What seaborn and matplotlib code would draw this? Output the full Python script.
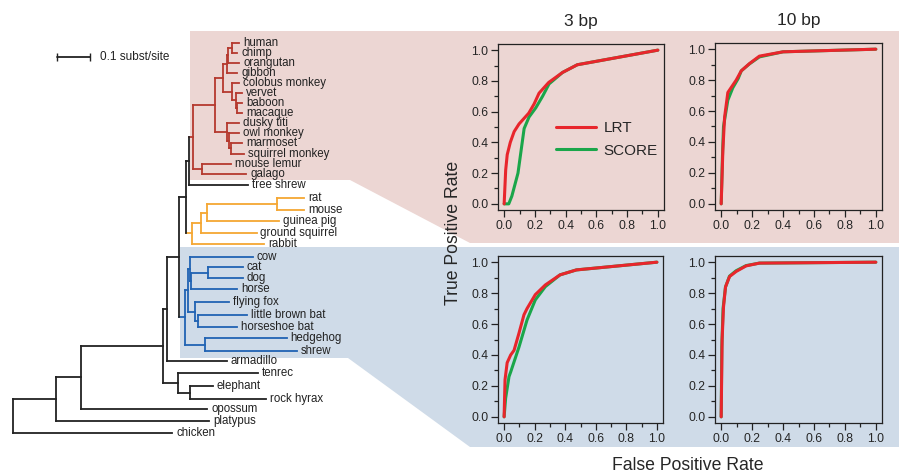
import matplotlib
matplotlib.use("Agg")
import matplotlib.pyplot as plt
from matplotlib.ticker import MultipleLocator, FormatStrFormatter
import pandas as pd
import seaborn as sns

# ---- tree (branch lengths in subst/site, clades labelled for colouring) ----
primates = ("((((((human:0.021,chimp:0.015):0.012,orangutan:0.033):0.006,gibbon:0.033):0.012,"
            "(colobus monkey:0.021,(vervet:0.018,(baboon:0.015,macaque:0.015):0.003):0.012):0.030):0.024,"
            "(dusky titi:0.039,(owl monkey:0.030,(marmoset:0.033,squirrel monkey:0.039):0.006):0.009):0.036):0.067,"
            "(mouse lemur:0.088,galago:0.133):0.030)Primates:0.012")
glires = ("((((rat:0.082,mouse:0.082):0.212,guinea pig:0.218):0.018,ground squirrel:0.167):0.030,"
          "rabbit:0.221)Glires:0.018")
laurasiatheria = ("(((cow:0.191,((cat:0.106,dog:0.106):0.052,horse:0.142):0.003):0.006,"
                  "(flying fox:0.106,(little brown bat:0.148,horseshoe bat:0.118):0.012):0.021):0.009,"
                  "(hedgehog:0.248,shrew:0.279):0.061)Laurasiatheria:0.018")
tree_newick = ("((((((((" + primates + ",tree shrew:0.179):0.009," + glires + "):0.021,"
               + laurasiatheria + "):0.036,armadillo:0.182):0.012,"
               "(tenrec:0.242,(elephant:0.070,rock hyrax:0.233):0.036):0.045):0.248,"
               "opossum:0.382):0.076,platypus:0.464):0.130,chicken:0.482);")

# vertical position of each tip, top to bottom
tip_rows = [43, 53, 63, 73, 83, 93, 103, 113, 123, 133, 143, 154, 164, 174, 185,
            198, 210, 221, 233, 244, 257, 267, 278, 289, 302, 315, 327, 338, 351,
            361, 373, 386, 399, 409, 421, 433]

clade_colors = {"Primates": "#b5392e", "Glires": "#f5a733", "Laurasiatheria": "#2163b3"}

# ---- ROC curves ----
lrt_3bp_fpr = [0, 0.01, 0.02, 0.04, 0.065, 0.097, 0.16, 0.195, 0.227, 0.29, 0.38, 0.476, 1.0]
lrt_3bp_tpr = [0, 0.22, 0.32, 0.40, 0.47, 0.52, 0.59, 0.65, 0.72, 0.79, 0.855, 0.905, 1.0]
score_3bp_fpr = [0, 0.03, 0.05, 0.09, 0.13, 0.162, 0.206, 0.25, 0.292, 0.38, 0.476, 1.0]
score_3bp_tpr = [0, 0.0, 0.05, 0.20, 0.49, 0.565, 0.625, 0.70, 0.78, 0.855, 0.905, 1.0]

lrt_10bp_fpr = [0, 0.011, 0.022, 0.043, 0.097, 0.13, 0.183, 0.247, 0.4, 1.0]
lrt_10bp_tpr = [0, 0.35, 0.56, 0.72, 0.80, 0.86, 0.907, 0.955, 0.983, 1.0]
score_10bp_fpr = [0, 0.008, 0.015, 0.043, 0.075, 0.11, 0.13, 0.183, 0.247, 0.4, 1.0]
score_10bp_tpr = [0, 0.30, 0.50, 0.67, 0.75, 0.81, 0.86, 0.905, 0.95, 0.983, 1.0]

lrt_3bp_l_fpr = [0, 0.006, 0.02, 0.043, 0.065, 0.097, 0.13, 0.15, 0.204, 0.27, 0.366, 0.473, 1.0]
lrt_3bp_l_tpr = [0, 0.24, 0.35, 0.40, 0.43, 0.54, 0.66, 0.70, 0.79, 0.853, 0.918, 0.95, 1.0]
score_3bp_l_fpr = [0, 0.01, 0.032, 0.043, 0.097, 0.15, 0.204, 0.27, 0.366, 0.473, 1.0]
score_3bp_l_tpr = [0, 0.12, 0.26, 0.29, 0.45, 0.626, 0.756, 0.842, 0.918, 0.95, 1.0]

lrt_10bp_l_fpr = [0, 0.006, 0.015, 0.028, 0.054, 0.097, 0.161, 0.247, 1.0]
lrt_10bp_l_tpr = [0, 0.50, 0.71, 0.84, 0.907, 0.94, 0.976, 0.994, 1.0]
score_10bp_l_fpr = [0, 0.004, 0.012, 0.028, 0.054, 0.097, 0.161, 0.247, 1.0]
score_10bp_l_tpr = [0, 0.45, 0.70, 0.84, 0.91, 0.945, 0.978, 0.994, 1.0]

method_colors = {"LRT": "#e8262c", "SCORE": "#1aa64a"}


def parse_newick(s):
    pos = 0

    def node():
        nonlocal pos
        children = []
        if s[pos] == "(":
            pos += 1
            children.append(node())
            while s[pos] == ",":
                pos += 1
                children.append(node())
            pos += 1
        start = pos
        while s[pos] not in ":,);":
            pos += 1
        name = s[start:pos]
        length = 0.0
        if s[pos] == ":":
            pos += 1
            start = pos
            while s[pos] not in ",);":
                pos += 1
            length = float(s[start:pos])
        return {"name": name, "length": length, "children": children}

    return node()


def layout(n, base, color, segs, tips):
    n["x"] = base + n["length"]
    col = clade_colors.get(n["name"], color)
    if not n["children"]:
        n["y"] = tip_rows[len(tips)]
        tips.append(n)
    else:
        for ch in n["children"]:
            layout(ch, n["x"], col, segs, tips)
        top, bot = n["children"][0]["y"], n["children"][-1]["y"]
        n["y"] = (top + bot) / 2
        segs.append(([n["x"], n["x"]], [top, bot], col))
    segs.append(([base, n["x"]], [n["y"], n["y"]], col))


sns.set_style("ticks")
plt.rcParams["font.family"] = ["Liberation Sans", "DejaVu Sans"]

W, H = 899, 473
fig = plt.figure(figsize=(W / 100, H / 100), dpi=100)

# shaded backgrounds
bg = fig.add_axes([0, 0, 1, 1])
bg.set_xlim(0, W)
bg.set_ylim(H, 0)
bg.axis("off")
bg.fill([190, 899, 899, 470, 350, 190], [31, 31, 243, 243, 180, 180], color="#ecd6d3", lw=0)
bg.fill([180, 899, 899, 470, 348, 180], [247, 247, 447, 447, 358, 358], color="#cfdbe8", lw=0)

# tree
tr = fig.add_axes([0, 0, 440 / W, 1])
tr.set_xlim(-13 / 330, 427 / 330)
tr.set_ylim(H, 0)
tr.axis("off")
tr.patch.set_alpha(0)

root = parse_newick(tree_newick)
segs, tips = [], []
layout(root, 0.0, "#222222", segs, tips)
for xs, ys, c in segs:
    tr.plot(xs, ys, color=c, lw=1.3, solid_capstyle="projecting")
for t in tips:
    tr.text(t["x"] + 0.012, t["y"], t["name"], ha="left", va="center",
            fontsize=8.3, color="#222222")

# scale bar
tr.plot([0.133, 0.233], [57, 57], color="#222222", lw=1.3, marker="|", markersize=6)
tr.text(0.263, 57, "0.1 subst/site", ha="left", va="center", fontsize=8.5, color="#222222")

# ROC panels
panels = [
    ([498, 44, 166, 166], "3 bp", lrt_3bp_fpr, lrt_3bp_tpr, score_3bp_fpr, score_3bp_tpr),
    ([715, 43, 167, 167], "10 bp", lrt_10bp_fpr, lrt_10bp_tpr, score_10bp_fpr, score_10bp_tpr),
    ([498, 256, 165, 167], None, lrt_3bp_l_fpr, lrt_3bp_l_tpr, score_3bp_l_fpr, score_3bp_l_tpr),
    ([715, 256, 167, 167], None, lrt_10bp_l_fpr, lrt_10bp_l_tpr, score_10bp_l_fpr, score_10bp_l_tpr),
]

for i, (box, title, lx, ly, sx, sy) in enumerate(panels):
    x0, y0, w, h = box
    ax = fig.add_axes([x0 / W, 1 - (y0 + h) / H, w / W, h / H])
    ax.patch.set_alpha(0)
    df = pd.concat([
        pd.DataFrame({"fpr": sx, "tpr": sy, "method": "SCORE"}),
        pd.DataFrame({"fpr": lx, "tpr": ly, "method": "LRT"}),
    ])
    sns.lineplot(data=df, x="fpr", y="tpr", hue="method", hue_order=["SCORE", "LRT"],
                 palette=method_colors, estimator=None, sort=False, lw=2.2, ax=ax, legend=False)
    ax.set_xlim(-0.04, 1.04)
    ax.set_ylim(-0.04, 1.04)
    ax.set_xlabel("")
    ax.set_ylabel("")
    for a in (ax.xaxis, ax.yaxis):
        a.set_major_locator(MultipleLocator(0.2))
        a.set_minor_locator(MultipleLocator(0.1))
        a.set_major_formatter(FormatStrFormatter("%.1f"))
    ax.tick_params(which="major", length=5, width=0.9, labelsize=8.7, pad=2, color="#222222")
    ax.tick_params(which="minor", length=3, width=0.9, color="#222222")
    for sp in ax.spines.values():
        sp.set_color("#222222")
        sp.set_linewidth(0.9)
    if title:
        ax.set_title(title, fontsize=12.5, pad=13)
    if i == 0:
        lines = ax.get_lines()
        ax.legend([lines[1], lines[0]], ["LRT", "SCORE"], loc="upper left",
                  bbox_to_anchor=(0.35, 0.535), frameon=False, fontsize=11,
                  handlelength=2.6, handletextpad=0.5, labelspacing=0.55,
                  borderpad=0, borderaxespad=0)

fig.text(453 / W, 1 - 233 / H, "True Positive Rate", rotation=90, ha="center", va="center",
         fontsize=12.7)
fig.text(688 / W, 1 - 465 / H, "False Positive Rate", ha="center", va="center", fontsize=12.7)

fig.savefig("out.png", dpi=100)
